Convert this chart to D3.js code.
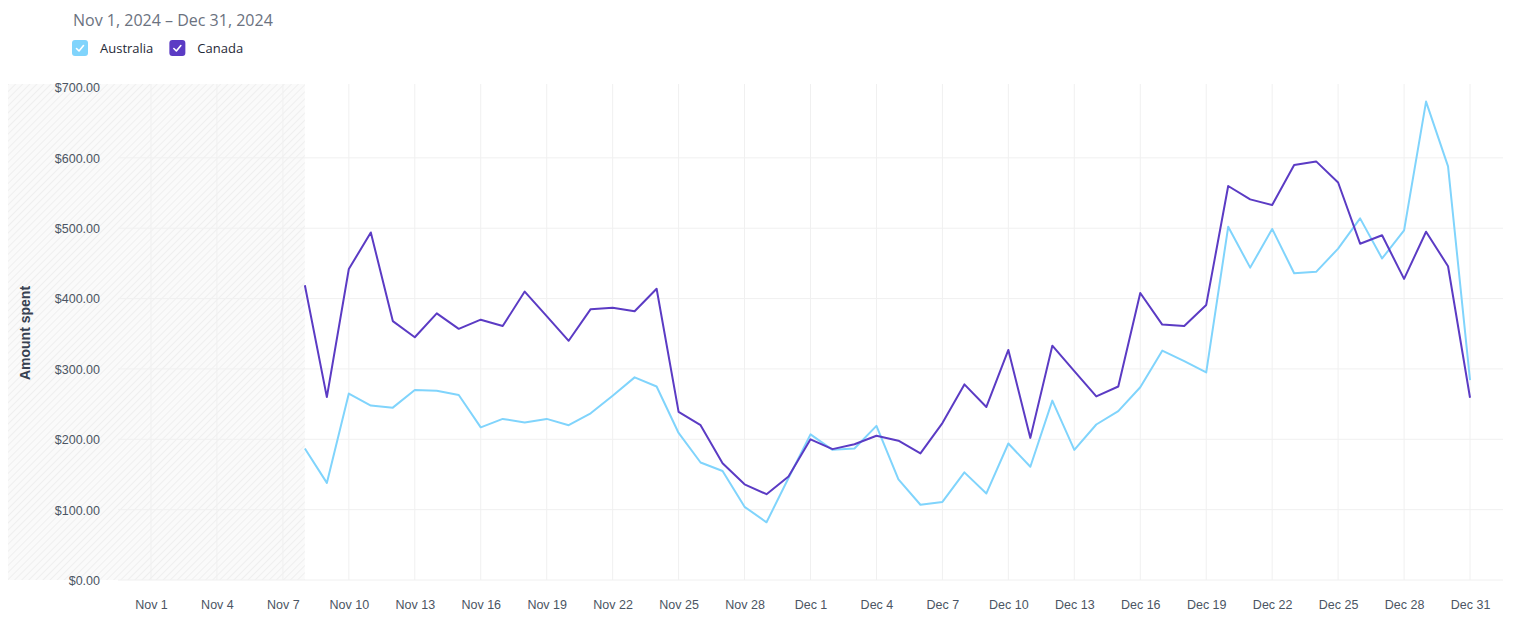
<!DOCTYPE html>
<html>
<head>
<meta charset="utf-8">
<script src="https://cdn.jsdelivr.net/npm/d3@7"></script>
<style>
  html, body { margin: 0; padding: 0; background: #fff; }
  svg { display: block; }
  .tick text { font-family: "Liberation Sans", Arial, sans-serif; font-size: 12.5px; fill: #4b5563; }
</style>
</head>
<body>
<div id="chart"></div>
<script>
// days with data start on Nov 8
const dates = d3.timeDay.range(new Date(2024, 10, 8), new Date(2025, 0, 1));

const australia = [
  187, 138, 265, 248, 245, 270, 269, 263, 217, 229, 224, 229, 220, 237, 262, 288, 275,
  209, 167, 155, 104, 82, 145, 207, 185, 187, 219, 143, 107, 111, 153, 123, 194, 161,
  255, 185, 221, 240, 274, 326, 311, 295, 502, 444, 499, 436, 438, 471, 514, 457, 497,
  680, 588, 284
];
const canada = [
  419, 260, 442, 494, 368, 345, 379, 357, 370, 361, 410, 375, 340, 385, 387, 382, 414,
  239, 220, 166, 136, 122, 147, 200, 186, 193, 205, 198, 180, 223, 278, 246, 327, 202,
  333, 297, 261, 275, 408, 363, 361, 391, 560, 541, 533, 590, 595, 565, 478, 490, 428,
  495, 446, 259
];

const series = [
  { name: 'Australia', color: '#80d4fc', values: australia },
  { name: 'Canada', color: '#5b3bc4', values: canada },
];

const yTicks = [0, 100, 200, 300, 400, 500, 600, 700];
const xTickDates = d3.timeDay.range(new Date(2024, 10, 1), new Date(2025, 0, 1), 3);

const width = 1525;
const height = 639;
const margin = { top: 84, right: 22, bottom: 59, left: 118 };

const svg = d3.select('#chart')
  .append('svg')
  .attr('width', width)
  .attr('height', height);

// hatch for the no-data stretch
const defs = svg.append('defs');
const pattern = defs.append('pattern')
  .attr('id', 'hatch')
  .attr('patternUnits', 'userSpaceOnUse')
  .attr('width', 5)
  .attr('height', 5)
  .attr('patternTransform', 'rotate(45)');
pattern.append('rect').attr('width', 5).attr('height', 5).attr('fill', '#fafafa');
pattern.append('line')
  .attr('x1', 0).attr('y1', 0).attr('x2', 0).attr('y2', 5)
  .attr('stroke', '#efefef').attr('stroke-width', 2);

const x = d3.scaleTime()
  .domain([new Date(2024, 9, 30, 12), new Date(2025, 0, 1, 12)])
  .range([margin.left, width - margin.right]);

const y = d3.scaleLinear()
  .domain([0, 705])
  .range([height - margin.bottom, margin.top]);

// header
svg.append('text')
  .attr('x', 73).attr('y', 26)
  .attr('font-family', '"Open Sans", sans-serif')
  .attr('font-size', 16)
  .attr('fill', '#6b7280')
  .text('Nov 1, 2024 \u2013 Dec 31, 2024');

const legend = svg.append('g').attr('class', 'legend');
let lx = 72;
series.forEach((s) => {
  const g = legend.append('g').attr('transform', `translate(${lx},40)`);
  g.append('rect')
    .attr('width', 16).attr('height', 16).attr('rx', 3)
    .attr('fill', s.color);
  g.append('path')
    .attr('d', 'M4.5,8.5 L7,11 L11.5,5.5')
    .attr('fill', 'none').attr('stroke', '#fff')
    .attr('stroke-width', 1.6).attr('stroke-linecap', 'round').attr('stroke-linejoin', 'round');
  const t = g.append('text')
    .attr('x', 28).attr('y', 12.5)
    .attr('font-family', '"Open Sans", sans-serif')
    .attr('font-size', 13)
    .attr('fill', '#1f2937')
    .text(s.name);
  lx += 28 + t.node().getComputedTextLength() + 16;
});

// hatched area
svg.append('rect')
  .attr('x', 8)
  .attr('y', margin.top)
  .attr('width', x(dates[0]) - 8)
  .attr('height', y(0) - margin.top)
  .attr('fill', 'url(#hatch)');

// grid
svg.append('g')
  .selectAll('line')
  .data(yTicks.filter((d) => d < 700))
  .join('line')
  .attr('x1', margin.left).attr('x2', width - margin.right)
  .attr('y1', (d) => y(d)).attr('y2', (d) => y(d))
  .attr('stroke', '#f0f0f0');

svg.append('g')
  .selectAll('line')
  .data(xTickDates)
  .join('line')
  .attr('x1', (d) => x(d)).attr('x2', (d) => x(d))
  .attr('y1', margin.top).attr('y2', y(0))
  .attr('stroke', '#f0f0f0');

// axes
const yAxis = svg.append('g')
  .attr('transform', 'translate(100,0)')
  .call(d3.axisLeft(y).tickValues(yTicks).tickSize(0).tickPadding(0)
    .tickFormat((d) => '$' + d3.format(',.2f')(d)));
yAxis.select('.domain').remove();
yAxis.selectAll('text').attr('dy', '0.35em');

const xAxis = svg.append('g')
  .attr('transform', `translate(0,${y(0)})`)
  .call(d3.axisBottom(x).tickValues(xTickDates).tickSize(0).tickPadding(20)
    .tickFormat(d3.timeFormat('%b %-d')));
xAxis.select('.domain').remove();

svg.append('text')
  .attr('transform', 'translate(30,333) rotate(-90)')
  .attr('text-anchor', 'middle')
  .attr('font-family', '"Liberation Sans", Arial, sans-serif')
  .attr('font-size', 14)
  .attr('font-weight', 'bold')
  .attr('fill', '#374151')
  .text('Amount spent');

// lines
const line = d3.line()
  .x((d, i) => x(dates[i]))
  .y((d) => y(d));

svg.append('g')
  .selectAll('path')
  .data(series)
  .join('path')
  .attr('d', (s) => line(s.values))
  .attr('fill', 'none')
  .attr('stroke', (s) => s.color)
  .attr('stroke-width', 2)
  .attr('stroke-linejoin', 'round');
</script>
</body>
</html>
